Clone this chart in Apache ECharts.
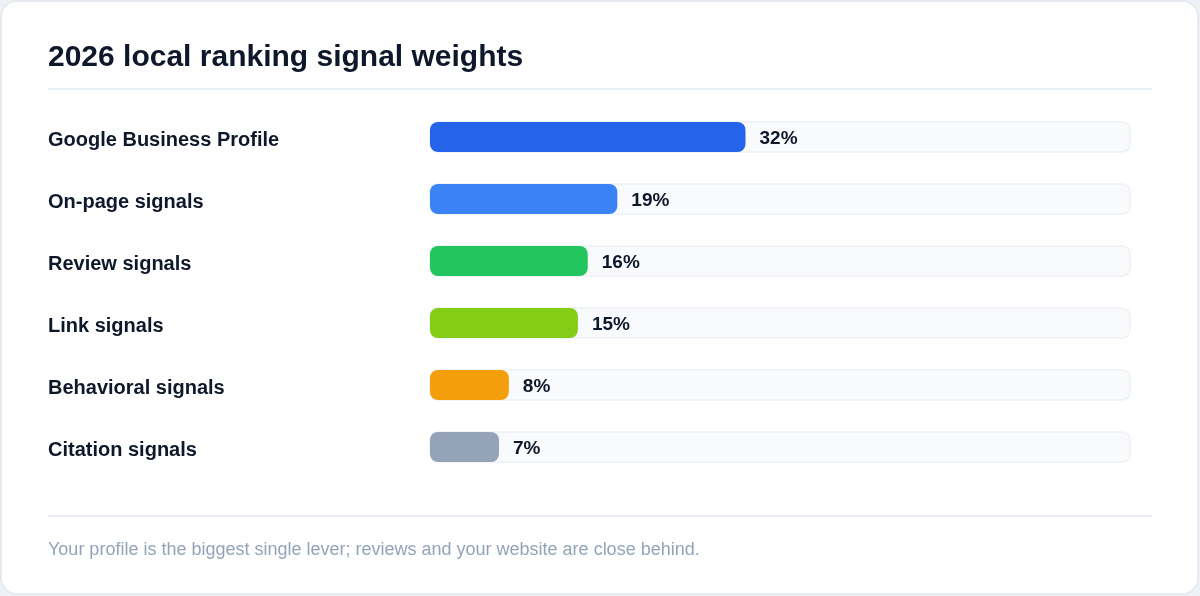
<!DOCTYPE html>
<html>
<head>
<meta charset="utf-8">
<script src="https://cdn.jsdelivr.net/npm/echarts@6/dist/echarts.min.js"></script>
<style>
  html, body { margin: 0; padding: 0; background: #eef2f6; }
  #chart { width: 1200px; height: 596px; }
</style>
</head>
<body>
<div id="chart"></div>
<script>
var titleText = '2026 local ranking signal weights';
var footText = 'Your profile is the biggest single lever; reviews and your website are close behind.';
var signals = ['Google Business Profile', 'On-page signals', 'Review signals', 'Link signals', 'Behavioral signals', 'Citation signals'];
var weights = [32, 19, 16, 15, 8, 7];
var barColors = ['#2563eb', '#3b82f6', '#22c55e', '#84cc16', '#f59e0b', '#94a3b8'];
var axisMax = 71;

var font = '"Liberation Sans", Arial, Helvetica, sans-serif';
var chart = echarts.init(document.getElementById('chart'));

var option = {
  backgroundColor: '#eef2f6',
  animation: false,
  grid: { left: 430, right: 70, top: 106, bottom: 118 },
  xAxis: {
    type: 'value',
    min: 0,
    max: axisMax,
    show: false
  },
  yAxis: {
    type: 'category',
    inverse: true,
    data: signals,
    axisLine: { show: false },
    axisTick: { show: false },
    axisLabel: {
      align: 'left',
      margin: 382,
      formatter: '{a|{value}}',
      rich: {
        a: {
          padding: [6, 0, 0, 0],
          fontFamily: font,
          fontSize: 20,
          fontWeight: 'bold',
          color: '#0f172a'
        }
      }
    }
  },
  graphic: [
    // card
    {
      type: 'rect', z: -10,
      shape: { x: 1, y: 1, width: 1197, height: 593, r: 16 },
      style: { fill: '#ffffff', stroke: '#e2e8f0', lineWidth: 1.5 }
    },
    {
      type: 'text',
      style: { text: titleText, x: 48, y: 58, textVerticalAlign: 'middle',
        font: 'bold 30px ' + font, fill: '#0f172a' }
    },
    {
      type: 'line',
      shape: { x1: 48, y1: 89, x2: 1152, y2: 89 },
      style: { stroke: '#e2e8f0', lineWidth: 1.5 }
    },
    {
      type: 'line',
      shape: { x1: 48, y1: 516, x2: 1152, y2: 516 },
      style: { stroke: '#e2e8f0', lineWidth: 1.5 }
    },
    {
      type: 'text',
      style: { text: footText, x: 48, y: 550, textVerticalAlign: 'middle',
        font: '18px ' + font, fill: '#94a3b8' }
    }
  ],
  series: [{
    type: 'bar',
    barWidth: 30,
    data: weights.map(function (v, i) {
      return { value: v, itemStyle: { color: barColors[i] } };
    }),
    itemStyle: { borderRadius: 8 },
    showBackground: true,
    backgroundStyle: {
      color: '#f8fafc',
      borderColor: '#edf1f5',
      borderWidth: 1.5,
      borderRadius: 8
    },
    label: {
      show: true,
      position: 'right',
      distance: 14,
      offset: [0, 2],
      formatter: '{c}%',
      fontFamily: font,
      fontSize: 19,
      fontWeight: 'bold',
      color: '#0f172a'
    }
  }]
};

chart.setOption(option);
</script>
</body>
</html>
